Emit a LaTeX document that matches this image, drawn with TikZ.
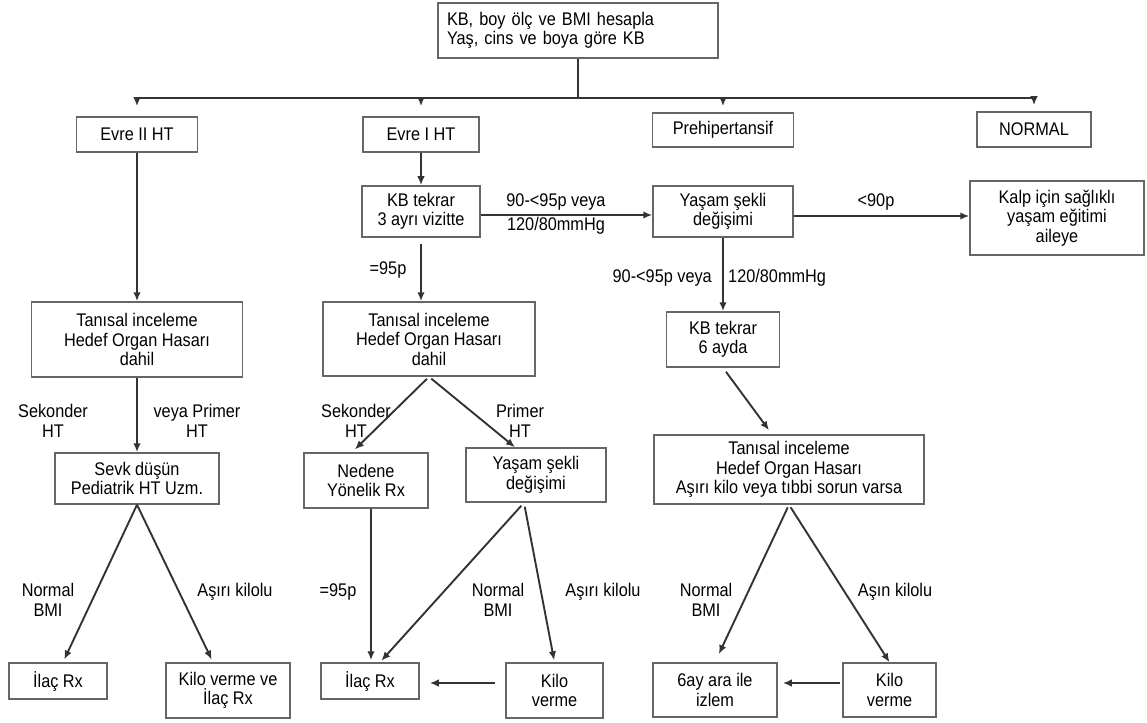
\documentclass[tikz,border=0pt]{standalone}
\usepackage{fontspec}
\setmainfont{Liberation Sans}[FakeStretch=0.89]
\usetikzlibrary{arrows.meta}
\begin{document}
\begin{tikzpicture}[x=1pt,y=-1pt,
  every node/.style={font=\fontsize{18.3}{19.5}\selectfont, text=black},
  box/.style={draw=black!60, line width=1.5pt, fill=white, align=center, inner sep=2pt},
  lbl/.style={align=center, inner sep=0pt},
  ln/.style={line width=1.9pt, draw=black!80},
  arr/.style={ln, -{Latex[length=9pt,width=7.5pt]}}]
\useasboundingbox (0,0) rectangle (1147,722);
% boxes
\node[box, minimum width=280pt, minimum height=55pt, text width=262pt, align=left] (top) at (578,30.5) {KB, boy ölç ve BMI hesapla\\Yaş, cins ve boya göre KB};
\node[box, minimum width=121pt, minimum height=35pt] (evre2) at (137,134.5) {Evre II HT};
\node[box, minimum width=116pt, minimum height=35pt] (evre1) at (421,134.5) {Evre I HT};
\node[box, minimum width=141pt, minimum height=34pt] (prehip) at (723,130) {Prehipertansif};
\node[box, minimum width=114pt, minimum height=35pt] (normal) at (1034,129.5) {NORMAL};
\node[box, minimum width=118pt, minimum height=51pt] (kb3) at (421,211.5) {KB tekrar\\3 ayrı vizitte};
\node[box, minimum width=140pt, minimum height=51pt] (yasam1) at (723,211.5) {Yaşam şekli\\değişimi};
\node[box, minimum width=174pt, minimum height=74pt] (kalp) at (1057,218) {Kalp için sağlıklı\\yaşam eğitimi\\aileye};
\node[box, minimum width=211pt, minimum height=75pt] (tan1) at (137,339.5) {Tanısal inceleme\\Hedef Organ Hasarı\\dahil};
\node[box, minimum width=212pt, minimum height=74pt] (tan2) at (429,339) {Tanısal inceleme\\Hedef Organ Hasarı\\dahil};
\node[box, minimum width=113pt, minimum height=55pt] (kb6) at (723,339.5) {KB tekrar\\6 ayda};
\node[box, minimum width=164pt, minimum height=51pt] (sevk) at (137,478.5) {Sevk düşün\\Pediatrik HT Uzm.};
\node[box, minimum width=124pt, minimum height=55pt] (nedene) at (366,480.5) {Nedene\\Yönelik Rx};
\node[box, minimum width=140pt, minimum height=54pt] (yasam2) at (536,475) {Yaşam şekli\\değişimi};
\node[box, minimum width=270pt, minimum height=69pt] (tan3) at (789,469.5) {Tanısal inceleme\\Hedef Organ Hasarı\\Aşırı kilo veya tıbbi sorun varsa};
\node[box, minimum width=98pt, minimum height=36pt] (ilac1) at (58,681) {İlaç Rx};
\node[box, minimum width=124pt, minimum height=55pt] (kiloilac) at (228,690.5) {Kilo verme ve\\İlaç Rx};
\node[box, minimum width=98pt, minimum height=36pt] (ilac2) at (370,681) {İlaç Rx};
\node[box, minimum width=97pt, minimum height=55pt] (kilo2) at (554.5,690.5) {Kilo\\verme};
\node[box, minimum width=124pt, minimum height=54pt] (izlem) at (715,690) {6ay ara ile\\izlem};
\node[box, minimum width=93pt, minimum height=54pt] (kilo3) at (889.5,690) {Kilo\\verme};
% bus
\coordinate (busL) at (137,98);
\coordinate (busR) at (1034,98);
\draw[ln] (top.south) -- (top.south |- busL);
\draw[ln] (busL) -- (busR);
\draw[arr, shorten >=10pt] (evre2.north |- busL) -- (evre2.north);
\draw[arr, shorten >=10pt] (evre1.north |- busL) -- (evre1.north);
\draw[arr, shorten >=6pt] (prehip.north |- busL) -- (prehip.north);
\draw[arr, shorten >=6pt] (normal.north |- busL) -- (normal.north);
% left column
\draw[arr] (evre2.south) -- (evre2.south |- tan1.north);
\draw[arr] (tan1.south) -- (tan1.south |- sevk.north);
\draw[arr, shorten >=3pt] (sevk.south) -- ([xshift=5pt]ilac1.north);
\draw[arr, shorten >=3pt] (sevk.south) -- ([xshift=-15pt]kiloilac.north);
\node[lbl] (l1) at (53,421) {Sekonder\\HT};
\node[lbl] (l2) at (197,421) {veya Primer\\HT};
\node[lbl] (l3) at (48,600) {Normal\\BMI};
\node[lbl] (l4) at (235,592) {Aşırı kilolu};
% middle column
\draw[arr] (evre1.south) -- (evre1.south |- kb3.north);
\draw[arr, shorten <=6pt] (kb3.south) -- (kb3.south |- tan2.north);
\node[lbl] (l5) at (388,270) {=95p};
\draw[arr] ([yshift=-3.5pt]kb3.east) -- ([yshift=-3.5pt]yasam1.west);
\node[lbl] (l6) at (556,202) {90-<95p veya};
\node[lbl] (l7) at (556,226) {120/80mmHg};
\draw[arr, shorten <=3pt, shorten >=4pt] (tan2.south) -- ([xshift=-14pt]nedene.north);
\draw[arr, shorten <=3pt] (tan2.south) -- ([xshift=-21pt]yasam2.north);
\node[lbl] (l8) at (356,421) {Sekonder\\HT};
\node[lbl] (l9) at (520,421) {Primer\\HT};
\draw[arr, shorten >=2pt] ([xshift=5pt]nedene.south) -- ([xshift=1pt]ilac2.north);
\node[lbl] (l10) at (338,592) {=95p};
\draw[arr, shorten <=4pt, shorten >=2pt] ([xshift=-12pt]yasam2.south) -- ([xshift=10pt]ilac2.north);
\draw[arr, shorten <=4pt, shorten >=2pt] ([xshift=-12pt]yasam2.south) -- (kilo2.north);
\node[lbl] (l11) at (498,600) {Normal\\BMI};
\node[lbl] (l12) at (603,592) {Aşırı kilolu};
\draw[arr, shorten <=10pt, shorten >=10pt] ([yshift=7.5pt]kilo2.west) -- ([yshift=-2pt]ilac2.east);
% right column
\draw[arr] ([yshift=-4.5pt]yasam1.east) -- ([yshift=2pt]kalp.west);
\node[lbl] (l13) at (876,202) {<90p};
\draw[arr] (yasam1.south) -- (yasam1.south |- kb6.north);
\node[lbl, anchor=east] (l14) at (712,278) {90-<95p veya};
\node[lbl, anchor=west] (l15) at (728,278) {120/80mmHg};
\draw[arr, shorten <=5pt, shorten >=5pt] (kb6.south) -- ([xshift=-17pt]tan3.north);
\draw[arr, shorten <=3pt, shorten >=9pt] (tan3.south) -- (izlem.north);
\draw[arr, shorten <=3pt] (tan3.south) -- (kilo3.north);
\node[lbl] (l16) at (706,600) {Normal\\BMI};
\node[lbl] (l17) at (895,592) {Aşın kilolu};
\draw[arr, shorten <=2pt, shorten >=5pt] ([yshift=7pt]kilo3.west) -- ([yshift=7pt]izlem.east);
\end{tikzpicture}
\end{document}
